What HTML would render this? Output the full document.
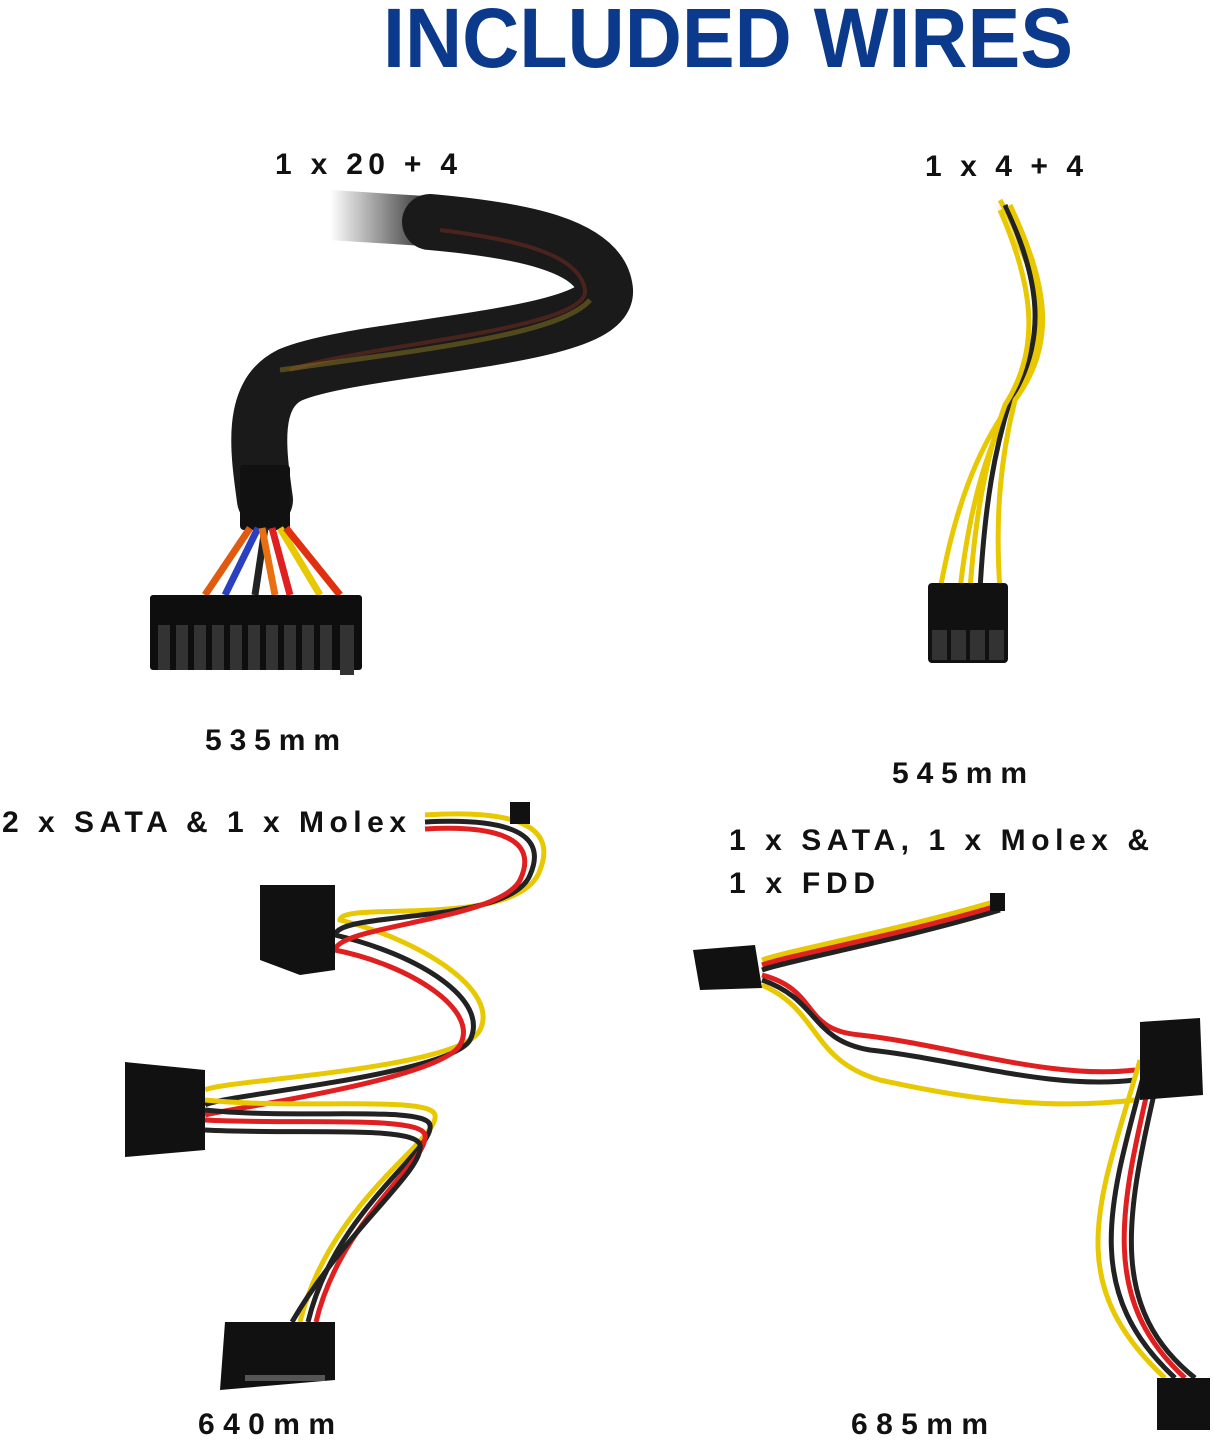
<!DOCTYPE html>
<html><head><meta charset="utf-8"><style>
html,body{margin:0;padding:0;background:#fff;}
svg{display:block;}
.t{font-family:"Liberation Sans",sans-serif;font-weight:bold;fill:#111;}
</style></head><body>
<svg width="1214" height="1441" viewBox="0 0 1214 1441" xmlns="http://www.w3.org/2000/svg">
<defs>
<linearGradient id="fade" gradientUnits="userSpaceOnUse" x1="330" y1="0" x2="440" y2="0">
<stop offset="0" stop-color="#1a1a1a" stop-opacity="0"/><stop offset="1" stop-color="#1a1a1a" stop-opacity="1"/>
</linearGradient>
<linearGradient id="fadev" x1="0" x2="0" y1="0" y2="1">
<stop offset="0" stop-color="#e8c800" stop-opacity="0"/><stop offset="0.15" stop-color="#e8c800" stop-opacity="1"/>
</linearGradient>
</defs>
<text x="383" y="67" class="t" style="fill:#0b3a8c;font-size:84px" textLength="690" lengthAdjust="spacingAndGlyphs">INCLUDED WIRES</text>

<text x="275" y="174" class="t" style="font-size:30px" textLength="182">1 x 20 + 4</text>
<text x="925" y="176" class="t" style="font-size:30px" textLength="158">1 x 4 + 4</text>
<text x="205" y="750" class="t" style="font-size:30px" textLength="135">535mm</text>
<text x="892" y="783" class="t" style="font-size:30px" textLength="135">545mm</text>
<text x="2" y="832" class="t" style="font-size:30px" textLength="404">2 x SATA &amp; 1 x Molex</text>
<text x="729" y="850" class="t" style="font-size:30px" textLength="420">1 x SATA, 1 x Molex &amp;</text>
<text x="729" y="893" class="t" style="font-size:30px" textLength="146">1 x FDD</text>
<text x="198" y="1434" class="t" style="font-size:30px" textLength="137">640mm</text>
<text x="851" y="1434" class="t" style="font-size:30px" textLength="137">685mm</text>

<!-- 24 pin sleeve -->
<path d="M330 215 L440 222" fill="none" stroke="url(#fade)" stroke-width="50"/>
<path d="M430 222 C520 230 600 245 605 290 C610 340 360 345 290 375 C250 395 258 450 265 500" fill="none" stroke="#1a1a1a" stroke-width="56" stroke-linecap="round"/>
<path d="M440 230 C520 240 580 255 585 290 C590 330 360 345 290 370" fill="none" stroke="#6a2a20" stroke-width="4" opacity="0.6"/>
<path d="M280 370 C420 350 560 335 590 300" fill="none" stroke="#8a7a20" stroke-width="5" opacity="0.5"/>
<rect x="240" y="465" width="50" height="65" fill="#111" rx="4"/>
<g stroke-width="7" fill="none">
<path d="M250 528 L205 595" stroke="#e05a10"/><path d="M258 528 L225 595" stroke="#2a40c0"/>
<path d="M265 528 L255 595" stroke="#222"/><path d="M272 528 L290 595" stroke="#e02020"/>
<path d="M280 528 L320 595" stroke="#e8c800"/><path d="M286 528 L340 595" stroke="#e03010"/>
<path d="M262 528 L275 595" stroke="#e87010"/>
</g>
<rect x="150" y="595" width="212" height="75" fill="#0e0e0e" rx="3"/>
<g fill="#333"><rect x="158" y="625" width="12" height="45"/><rect x="176" y="625" width="12" height="45"/><rect x="194" y="625" width="12" height="45"/><rect x="212" y="625" width="12" height="45"/><rect x="230" y="625" width="12" height="45"/><rect x="248" y="625" width="12" height="45"/><rect x="266" y="625" width="12" height="45"/><rect x="284" y="625" width="12" height="45"/><rect x="302" y="625" width="12" height="45"/><rect x="320" y="625" width="12" height="45"/><rect x="340" y="625" width="14" height="50"/></g>

<!-- 4+4 -->
<g fill="none" stroke-width="5">
<path d="M995 200 C1040 280 1060 330 1020 390 C990 430 960 480 940 590" stroke="url(#fadev)"/>
<path d="M1000 200 C1045 280 1050 340 1015 395 C990 440 970 500 960 590" stroke="#e8c800"/>
<path d="M1005 205 C1040 280 1048 340 1010 400 C995 450 985 500 980 590" stroke="#222"/>
<path d="M1010 205 C1050 290 1055 345 1015 400 C1000 460 995 520 1000 590" stroke="#e8c800"/>
<path d="M1000 210 C1035 290 1040 350 1005 405 C985 460 975 520 970 590" stroke="#e8c800"/>
</g>
<rect x="928" y="583" width="80" height="80" fill="#111" rx="4"/>
<g fill="#333"><rect x="932" y="630" width="15" height="30"/><rect x="951" y="630" width="15" height="30"/><rect x="970" y="630" width="15" height="30"/><rect x="989" y="630" width="15" height="30"/></g>

<!-- bottom left wires -->
<g fill="none" stroke-width="5">
<path d="M425 815 C500 810 560 820 540 870 C520 930 340 900 340 920 C420 940 500 990 480 1030 C460 1070 220 1080 205 1090" stroke="#e8c800"/>
<path d="M425 822 C500 818 550 830 530 875 C510 925 340 910 335 935 C420 955 490 1000 470 1040 C450 1075 220 1095 205 1105" stroke="#222"/>
<path d="M425 829 C495 825 540 838 520 880 C500 920 340 925 335 950 C410 965 480 1010 460 1045 C440 1080 220 1110 205 1115" stroke="#e02020"/>
<path d="M205 1100 C300 1110 430 1095 435 1115 C440 1140 330 1200 300 1322" stroke="#e8c800"/>
<path d="M205 1110 C300 1120 425 1105 430 1125 C435 1150 335 1210 308 1322" stroke="#222"/>
<path d="M205 1120 C300 1125 420 1115 425 1135 C430 1160 340 1220 316 1322" stroke="#e02020"/>
<path d="M205 1130 C300 1135 415 1125 420 1145 C425 1170 345 1230 292 1322" stroke="#222"/>
</g>
<rect x="510" y="802" width="20" height="22" fill="#111"/>
<path d="M260 885 L335 885 L335 970 L300 975 L260 960 Z" fill="#111"/>
<path d="M125 1062 L205 1070 L205 1150 L125 1157 Z" fill="#111"/>
<path d="M225 1322 L335 1322 L335 1380 L220 1390 Z" fill="#111"/>
<rect x="245" y="1375" width="80" height="6" fill="#555"/>

<!-- bottom right wires -->
<g fill="none" stroke-width="5">
<path d="M1000 900 C900 930 790 950 762 960" stroke="#e8c800"/>
<path d="M1000 905 C900 935 790 955 762 965" stroke="#e02020"/>
<path d="M1000 910 C900 940 790 960 762 970" stroke="#222"/>
<path d="M762 975 C820 990 800 1030 860 1035 C950 1045 1050 1080 1135 1070" stroke="#e02020"/>
<path d="M762 980 C820 1000 810 1040 870 1050 C960 1060 1050 1090 1135 1080" stroke="#222"/>
<path d="M762 985 C820 1010 810 1060 880 1080 C970 1100 1050 1110 1135 1100" stroke="#e8c800"/>
<path d="M1140 1060 C1100 1200 1060 1280 1165 1378" stroke="#e8c800"/>
<path d="M1145 1070 C1110 1200 1080 1290 1175 1378" stroke="#222"/>
<path d="M1150 1080 C1120 1210 1100 1300 1185 1378" stroke="#e02020"/>
<path d="M1155 1090 C1125 1220 1110 1310 1195 1378" stroke="#222"/>
</g>
<rect x="990" y="893" width="15" height="18" fill="#111"/>
<path d="M693 950 L755 945 L762 988 L700 990 Z" fill="#111"/>
<path d="M1140 1022 L1200 1018 L1203 1095 L1140 1100 Z" fill="#111"/>
<rect x="1157" y="1378" width="53" height="52" fill="#111"/>
</svg>
</body></html>
